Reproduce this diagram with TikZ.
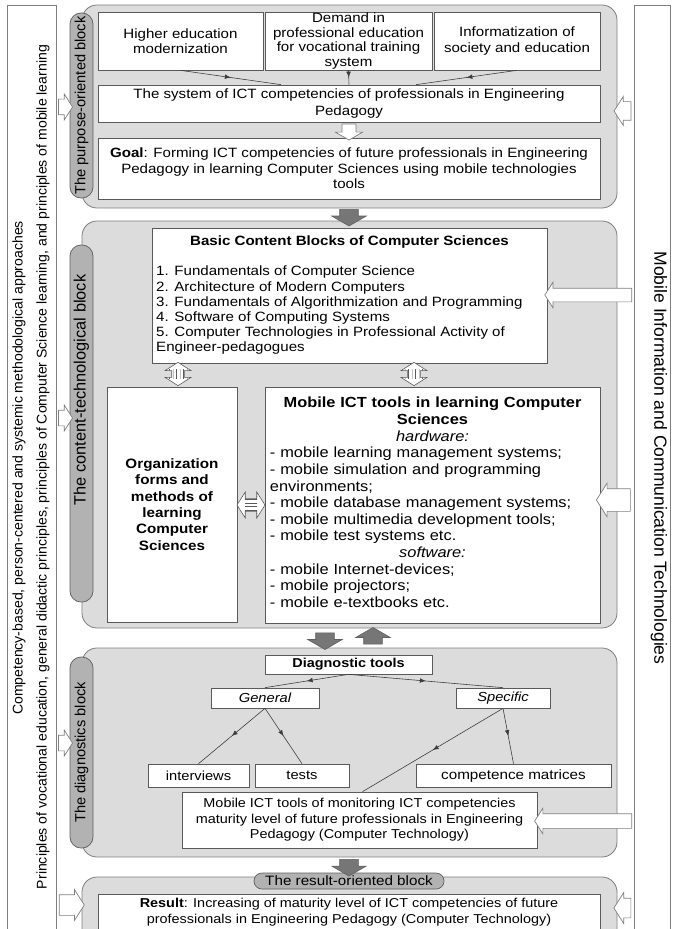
\documentclass[tikz,border=0pt]{standalone}
\usepackage{fontspec}
\setmainfont{Liberation Sans}[FakeStretch=1.12]
\newfontfamily\plainsans{Liberation Sans}
\usetikzlibrary{positioning,fit,calc,shapes.arrows,patterns,arrows.meta,decorations.markings}

\definecolor{blockfill}{HTML}{DCDCDC}
\definecolor{blockline}{HTML}{7F7F7F}
\definecolor{pillfill}{HTML}{B2B2B2}
\definecolor{pillline}{HTML}{5F5F5F}
\definecolor{boxline}{HTML}{5A5A5A}
\definecolor{heavyfill}{HTML}{767676}
\definecolor{connline}{HTML}{3C3C3C}

\begin{document}
\begin{tikzpicture}[x=0.03cm,y=-0.03cm,
  block/.style={draw=blockline, fill=blockfill, rounded corners=0.45cm, line width=0.7pt, inner sep=0pt},
  box/.style={draw=boxline, fill=white, line width=0.6pt, inner sep=0pt, align=center, font=\fontsize{11.5}{13.3}\selectfont},
  sidebox/.style={draw=blockline, fill=white, line width=0.6pt, inner sep=0pt},
  sidetext/.style={inner sep=0pt, font=\plainsans\fontsize{12}{14}\selectfont},
  pill/.style={draw=pillline, fill=pillfill, rounded corners=0.33cm, line width=0.6pt, inner sep=0pt, minimum height=0.69cm, font=\plainsans\fontsize{12.5}{14}\selectfont},
  openarrow/.style={single arrow, draw=blockline, fill=white, line width=0.6pt, inner xsep=0pt, inner ysep=0.225cm, single arrow tip angle=115, single arrow head extend=0.15cm, minimum height=0.42cm},
  heavyarrow/.style={single arrow, draw=pillline, fill=heavyfill, line width=0.5pt, inner ysep=0pt, inner xsep=0.27cm, single arrow tip angle=120, single arrow head extend=0.24cm, minimum height=0.5cm},
  linkv/.style={double arrow, shape border rotate=90, draw=boxline, fill=white, line width=0.5pt, inner ysep=0pt, inner xsep=0.18cm, double arrow tip angle=115, double arrow head extend=0.2cm, minimum height=0.7cm,
    path picture={\fill[pattern=vertical lines, pattern color=boxline] ($(path picture bounding box.center)+(-0.5cm,-0.13cm)$) rectangle ($(path picture bounding box.center)+(0.5cm,0.13cm)$);}},
  linkh/.style={double arrow, draw=boxline, fill=white, line width=0.5pt, inner xsep=0pt, inner ysep=0.18cm, double arrow tip angle=115, double arrow head extend=0.2cm, minimum height=0.84cm,
    path picture={\fill[pattern=horizontal lines, pattern color=boxline] ($(path picture bounding box.center)+(-0.18cm,-0.5cm)$) rectangle ($(path picture bounding box.center)+(0.18cm,0.5cm)$);}},
  midarrow/.style={draw=connline, line width=0.5pt, postaction={decorate},
    decoration={markings, mark=at position 0.5 with {\arrow[connline]{Latex[length=5pt,width=4pt]}}}}
]
\useasboundingbox (0,0) rectangle (676,929);

% side columns
\node[sidebox, fit={(7,5) (56,940)}] (leftcol) {};
\node[sidebox, fit={(634,5) (670,940)}] (rightcol) {};
\node[sidetext, rotate=90] (approaches) at (19,468) {Competency-based, person-centered and systemic methodological approaches};
\node[sidetext, rotate=90] (principles) at (43,467) {Principles of vocational education, general didactic principles, principles of Computer Science learning, and principles of mobile learning};
\node[sidetext, rotate=-90, font=\plainsans\fontsize{15}{17}\selectfont] (mobiletech) at (659,458) {Mobile Information and Communication Technologies};

% the purpose-oriented block
\node[block, fit={(82,5) (617,208)}] (purpose) {};
\node[box, minimum width=4.95cm, minimum height=1.74cm] (higher) at (180.5,41) {Higher education\\modernization};
\node[box, minimum width=5.01cm, minimum height=1.74cm, font=\fontsize{11.5}{12.6}\selectfont] (demand) at (348.5,41) {Demand in\\professional education\\for vocational training\\system};
\node[box, minimum width=4.98cm, minimum height=1.74cm] (inform) at (517,41) {Informatization of\\society and education};
\node[box, minimum width=15.06cm, minimum height=1.11cm, font=\fontsize{11.5}{14.2}\selectfont] (system) at (349,103.5) {The system of ICT competencies of professionals in Engineering\\Pedagogy};
\node[box, minimum width=15.06cm, minimum height=1.83cm] (goal) at (349,168.5) {\textbf{Goal}: Forming ICT competencies of future professionals in Engineering\\Pedagogy in learning Computer Sciences using mobile technologies\\tools};
\draw[midarrow] (higher.south) -- ($(system.north)+(-68,0)$);
\draw[midarrow] (demand.south) -- (system.north);
\draw[midarrow] (inform.south) -- ($(system.north)+(67,0)$);
\node[openarrow, shape border rotate=270, inner ysep=0pt, inner xsep=0.2cm, minimum height=0.48cm, single arrow head extend=0.2cm, single arrow tip angle=120] (sysgoal) at (349,130) {};

% the content-technological block
\node[block, fit={(82,221) (617,628)}] (content) {};
\node[box, minimum width=11.85cm, minimum height=4.05cm] (basic) at (349.5,295.5) {};
\node[font=\bfseries\fontsize{11.5}{13}\selectfont, inner sep=0pt] (basictitle) at (349.5,242) {Basic Content Blocks of Computer Sciences};
\node[anchor=north west, align=left, inner sep=0pt, font=\fontsize{11.5}{12.9}\selectfont] (basiclist) at (156,266) {1. Fundamentals of Computer Science\\2. Architecture of Modern Computers\\3. Fundamentals of Algorithmization and Programming\\4. Software of Computing Systems\\5. Computer Technologies in Professional Activity of\\Engineer-pedagogues};
\node[box, minimum width=3.9cm, minimum height=7.05cm, font=\bfseries\fontsize{11.6}{13.9}\selectfont] (forms) at (172,504.5) {Organization\\forms and\\methods of\\learning\\Computer\\Sciences};
\node[box, minimum width=10.05cm, minimum height=7.08cm] (mobile) at (432.5,505) {};
\node[anchor=north, text width=9.75cm, align=left, inner sep=0pt, font=\fontsize{12.5}{14.2}\selectfont] (mobiletext) at (432.5,397) {%
{\centering\bfseries Mobile ICT tools in learning Computer\\Sciences\par}
{\centering\itshape hardware:\par}
- mobile learning management systems;\\
- mobile simulation and programming\\
environments;\\
- mobile database management systems;\\
- mobile multimedia development tools;\\
- mobile test systems etc.\par
{\centering\itshape software:\par}
- mobile Internet-devices;\\
- mobile projectors;\\
- mobile e-textbooks etc.};
\node[linkv] (linkforms) at (178,374) {};
\node[linkv] (linkmobile) at (414,374) {};
\node[linkh] (linkmid) at (251,505) {};

% the diagnostics block
\node[block, fit={(82,648) (617,857)}] (diagnostics) {};
\node[box, minimum width=5.01cm, minimum height=0.57cm, font=\bfseries\fontsize{11}{13}\selectfont] (dtools) at (348.5,664.5) {Diagnostic tools};
\node[box, minimum width=3.24cm, minimum height=0.6cm, font=\itshape\fontsize{11.2}{13}\selectfont] (general) at (265,698) {General};
\node[box, minimum width=2.82cm, minimum height=0.6cm, font=\itshape\fontsize{11.2}{13}\selectfont] (specific) at (503,698) {Specific};
\node[box, minimum width=3.03cm, minimum height=0.69cm, font=\fontsize{11.2}{13}\selectfont] (interviews) at (198.5,775.5) {interviews};
\node[box, minimum width=2.82cm, minimum height=0.69cm, font=\fontsize{11.2}{13}\selectfont] (tests) at (302,775.5) {tests};
\node[box, minimum width=5.85cm, minimum height=0.69cm, font=\fontsize{11.6}{13}\selectfont] (matrices) at (513.5,775.5) {competence matrices};
\node[box, minimum width=10.65cm, minimum height=1.68cm, font=\fontsize{11}{13.3}\selectfont] (monitor) at (359.5,820) {Mobile ICT tools of monitoring ICT competencies\\maturity level of future professionals in Engineering\\Pedagogy (Computer Technology)};
\draw[midarrow] (dtools.south) -- (general.north);
\draw[midarrow] (dtools.south) -- (specific.north);
\draw[midarrow] (general.south) -- (interviews.north);
\draw[midarrow] (general.south) -- (tests.north);
\draw[midarrow] (specific.south) -- (matrices.north);
\draw[midarrow] (specific.south) -- ($(monitor.north)+(3,0)$);

% the result-oriented block
\node[block, fit={(82,877) (617,945)}] (result) {};
\node[box, minimum width=15.06cm, minimum height=1.08cm, font=\fontsize{11}{13.3}\selectfont] (resultbox) at (349,912) {\textbf{Result}: Increasing of maturity level of ICT competencies of future\\professionals in Engineering Pedagogy (Computer Technology)};

% block labels
\node[pill, rotate=90, minimum width=5.55cm] (purposepill) at (81.5,105.5) {The purpose-oriented block};
\node[pill, rotate=90, minimum width=10.71cm] (contentpill) at (81.5,423.5) {};
\node[sidetext, rotate=90, font=\plainsans\fontsize{14}{16}\selectfont] (contentlabel) at (81.5,390) {The content-technological block};
\node[pill, rotate=90, minimum width=5.73cm] (diagpill) at (81.5,752.5) {The diagnostics block};
\node[pill, minimum width=5.7cm, minimum height=0.48cm, rounded corners=0.24cm, font=\fontsize{11.6}{13}\selectfont] (resultpill) at (349,881) {The result-oriented block};

% flows between blocks
\node[heavyarrow, shape border rotate=270] (purposedown) at (349,215) {};
\node[heavyarrow, shape border rotate=270] (contentdown) at (325,638.5) {};
\node[heavyarrow, shape border rotate=90] (diagup) at (373,638.5) {};
\node[heavyarrow, shape border rotate=270] (diagdown) at (349,865) {};

% inputs from the side columns
\node[openarrow] (inpurpose) at (63,107) {};
\node[openarrow] (incontent) at (63,418) {};
\node[openarrow] (indiag) at (63,743) {};
\node[openarrow, minimum height=0.75cm, inner ysep=0.3cm] (inresult) at (68.5,905) {};
\node[openarrow, shape border rotate=180, minimum height=0.51cm, inner ysep=0.27cm] (techpurpose) at (625.5,111) {};
\node[openarrow, shape border rotate=180, minimum height=2.61cm, inner ysep=0.195cm, single arrow head extend=0.18cm] (techbasic) at (590.5,295) {};
\node[openarrow, shape border rotate=180, minimum height=1.02cm, inner ysep=0.33cm, single arrow head extend=0.165cm] (techmobile) at (617,500) {};
\node[openarrow, shape border rotate=180, minimum height=2.91cm, inner ysep=0.21cm, single arrow head extend=0.165cm] (techmonitor) at (585.5,821) {};
\node[openarrow, shape border rotate=180, minimum height=0.51cm, inner ysep=0.285cm, single arrow head extend=0.165cm] (techresult) at (625.5,908) {};
\end{tikzpicture}
\end{document}
